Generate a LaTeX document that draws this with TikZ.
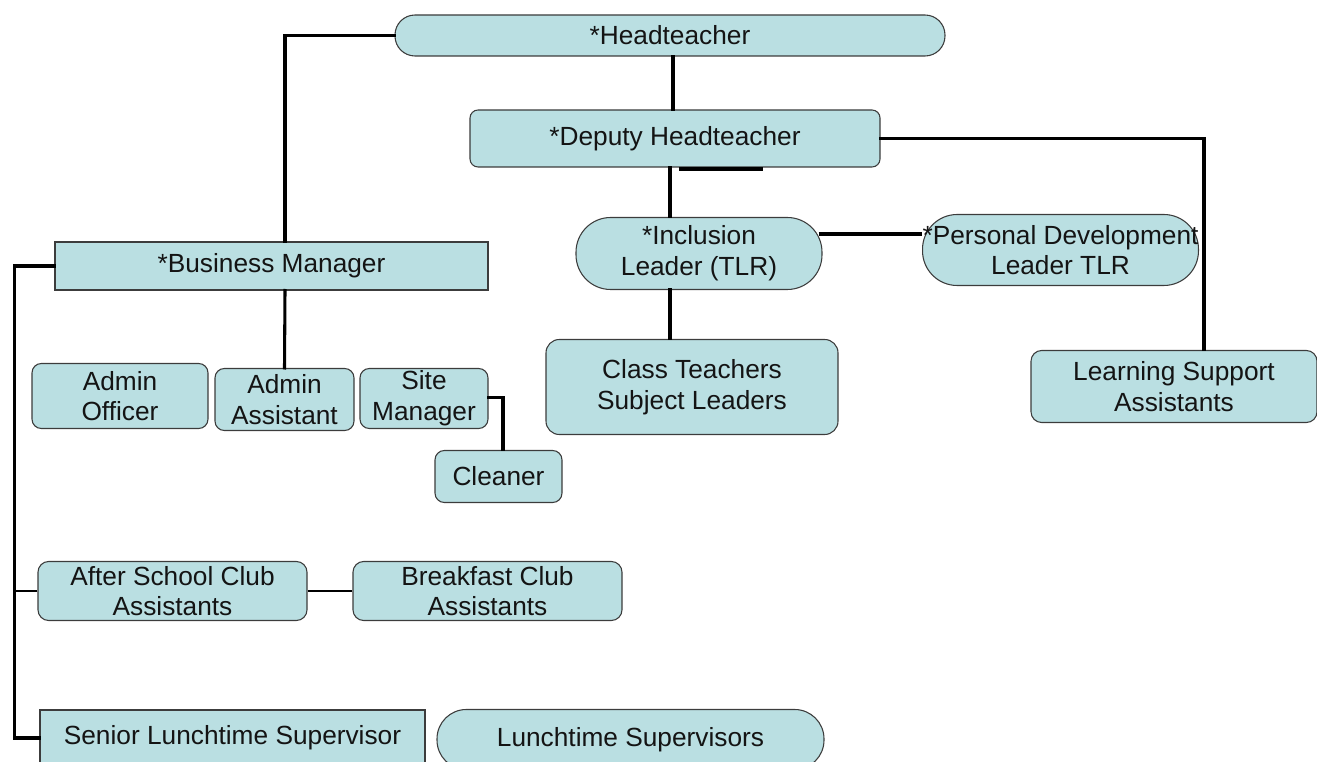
\documentclass[tikz,border=0pt]{standalone}
\usepackage{fontspec}
\setmainfont{Liberation Sans}
\usetikzlibrary{calc}
\definecolor{boxfill}{RGB}{186,223,226}
\definecolor{boxline}{RGB}{60,60,60}
\definecolor{txt}{RGB}{20,20,20}
\begin{document}
\begin{tikzpicture}[x=0.75pt,y=-0.75pt,
  box/.style={draw=boxline,fill=boxfill,line width=0.8pt,inner sep=0pt,align=center,
    text=txt,font=\fontsize{19.7}{23}\selectfont},
  conn/.style={line width=2.3pt,line cap=rect},
  thinconn/.style={line width=0.8pt}]
\useasboundingbox (0,0) rectangle (1317,762);
\clip (0,0) rectangle (1317,762);
% nodes
\node[box,rounded corners=15pt,minimum width=412.5pt,minimum height=30.75pt] (head) at (670,35.5) {*Headteacher};
\node[box,rounded corners=6pt,minimum width=307.5pt,minimum height=42.75pt] (deputy) at (675,138.5) {*Deputy Headteacher};
\node[box,minimum width=324.75pt,minimum height=36pt] (bm) at (271.5,266) {*Business Manager};
\node[box,rounded corners=7pt,minimum width=132pt,minimum height=48.75pt] (ao) at (120,396) {Admin\\Officer};
\node[box,rounded corners=7pt,minimum width=104.25pt,minimum height=46.5pt] (aa) at (284.5,399.5) {Admin\\Assistant};
\node[box,rounded corners=7pt,minimum width=96pt,minimum height=45pt] (sm) at (424,398.5) {Site\\Manager};
\node[box,rounded corners=7pt,minimum width=95.25pt,minimum height=39pt] (cl) at (498.5,476.5) {Cleaner};
\node[box,rounded corners=26pt,minimum width=184.5pt,minimum height=54pt] (incl) at (699,253.5) {*Inclusion\\Leader (TLR)};
\node[box,rounded corners=26pt,minimum width=206.25pt,minimum height=53.25pt] (pd) at (1060.5,250) {*Personal Development\\Leader TLR};
\node[box,rounded corners=10pt,minimum width=219pt,minimum height=71.25pt] (ct) at (692,387) {Class Teachers\\Subject Leaders};
\node[box,rounded corners=8pt,minimum width=214.5pt,minimum height=54pt] (lsa) at (1174,386.5) {Learning Support\\Assistants};
\node[box,rounded corners=8pt,minimum width=201.75pt,minimum height=44.25pt] (asc) at (172.5,591) {After School Club\\Assistants};
\node[box,rounded corners=8pt,minimum width=201.75pt,minimum height=44.25pt] (bc) at (487.5,591) {Breakfast Club\\Assistants};
\node[box,minimum width=288.75pt,minimum height=42pt] (sls) at (232.5,738) {Senior Lunchtime Supervisor};
\node[box,rounded corners=22pt,minimum width=290.25pt,minimum height=45pt] (ls) at (630.5,739.5) {Lunchtime Supervisors};
% connectors
\draw[conn] ($(head.south)+(3,0)$) -- ($(deputy.north)+(-2,0)$);
\draw[conn] (head.west) -| ($(bm.north)+(13.5,0)$);
\draw[conn] (deputy.east) -| ($(lsa.north)+(30,0)$);
\draw[conn] ($(deputy.south)+(-5,0)$) -- ($(incl.north)+(-29,0)$);
\draw[conn] ($(deputy.south)+(6,1.5)$) -- ($(deputy.south)+(86,1.5)$);
\draw[line width=3pt] ($(incl.east)+(-4,-19)$) -- ($(pd.west)+(0,-15.5)$);
\draw[conn] ($(incl.south)+(-29,0)$) -- ($(ct.north)+(-22,0)$);
\draw[conn] ($(bm.south)+(13.5,0)$) -- (aa.north);
\draw[conn] ($(sm.east)+(0,-1)$) -| ($(cl.north)+(4.5,0)$);
\draw[conn] (bm.west) -- ++(-40,0) |- (sls.west);
\draw[thinconn] (asc.west) -- ++(-23,0);
\draw[thinconn] (asc.east) -- (bc.west);
\end{tikzpicture}
\end{document}
